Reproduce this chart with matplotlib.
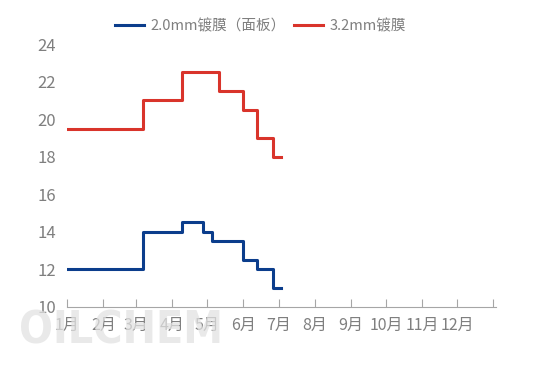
import matplotlib
matplotlib.use("Agg")
import matplotlib.pyplot as plt
import pandas as pd

plt.rcParams['font.family'] = ['Noto Sans CJK SC', 'DejaVu Sans']

# 价格变动点（按日期阶梯）
dates_20 = ['2023-01-01', '2023-03-07', '2023-04-09', '2023-04-27', '2023-05-05',
            '2023-06-01', '2023-06-13', '2023-06-26', '2023-07-03']
price_20 = [12, 14, 14.5, 14, 13.5, 12.5, 12, 11, 11]

dates_32 = ['2023-01-01', '2023-03-07', '2023-04-09', '2023-05-11',
            '2023-06-01', '2023-06-13', '2023-06-26', '2023-07-03']
price_32 = [19.5, 21, 22.5, 21.5, 20.5, 19, 18, 18]

month_labels = ['1月', '2月', '3月', '4月', '5月', '6月', '7月', '8月',
                '9月', '10月', '11月', '12月']

gray = '#7f7f7f'
blue = '#0b3d8c'
red = '#d9342b'

fig = plt.figure(figsize=(5.54, 3.71), dpi=100)
ax = fig.add_axes([0.121, 0.173, 0.774, 0.708])

ax.plot(pd.to_datetime(dates_20), price_20, drawstyle='steps-post',
        color=blue, lw=2.2, label='2.0mm镀膜（面板）')
ax.plot(pd.to_datetime(dates_32), price_32, drawstyle='steps-post',
        color=red, lw=2.2, label='3.2mm镀膜')

ax.set_ylim(10, 24)
ax.set_yticks(range(10, 25, 2))
ax.set_xlim(pd.Timestamp('2023-01-01'), pd.Timestamp('2024-01-03'))

ticks = pd.date_range('2023-01-01', '2024-01-01', freq='MS')
ax.set_xticks(ticks)
ax.set_xticklabels(month_labels + [''])

for s in ['top', 'right', 'left']:
    ax.spines[s].set_visible(False)
ax.spines['bottom'].set_color('#a6a6a6')
ax.tick_params(axis='x', direction='in', length=6, color='#a6a6a6',
               labelcolor=gray, labelsize=11.5, pad=7)
ax.tick_params(axis='y', length=0, labelcolor=gray, labelsize=12, pad=8)

# 水印
fig.text(0.035, 0.075, 'OILCHEM', fontsize=32, fontweight='bold',
         fontstretch='condensed', color='#e2e2e2', alpha=0.75, zorder=0,
         family='DejaVu Sans')

fig.legend(loc='upper center', bbox_to_anchor=(0.47, 0.985), ncol=2,
           frameon=False, fontsize=10.5, labelcolor=gray,
           handlelength=2.0, handletextpad=0.4, columnspacing=0.6)

fig.savefig('out.png', dpi=100)
